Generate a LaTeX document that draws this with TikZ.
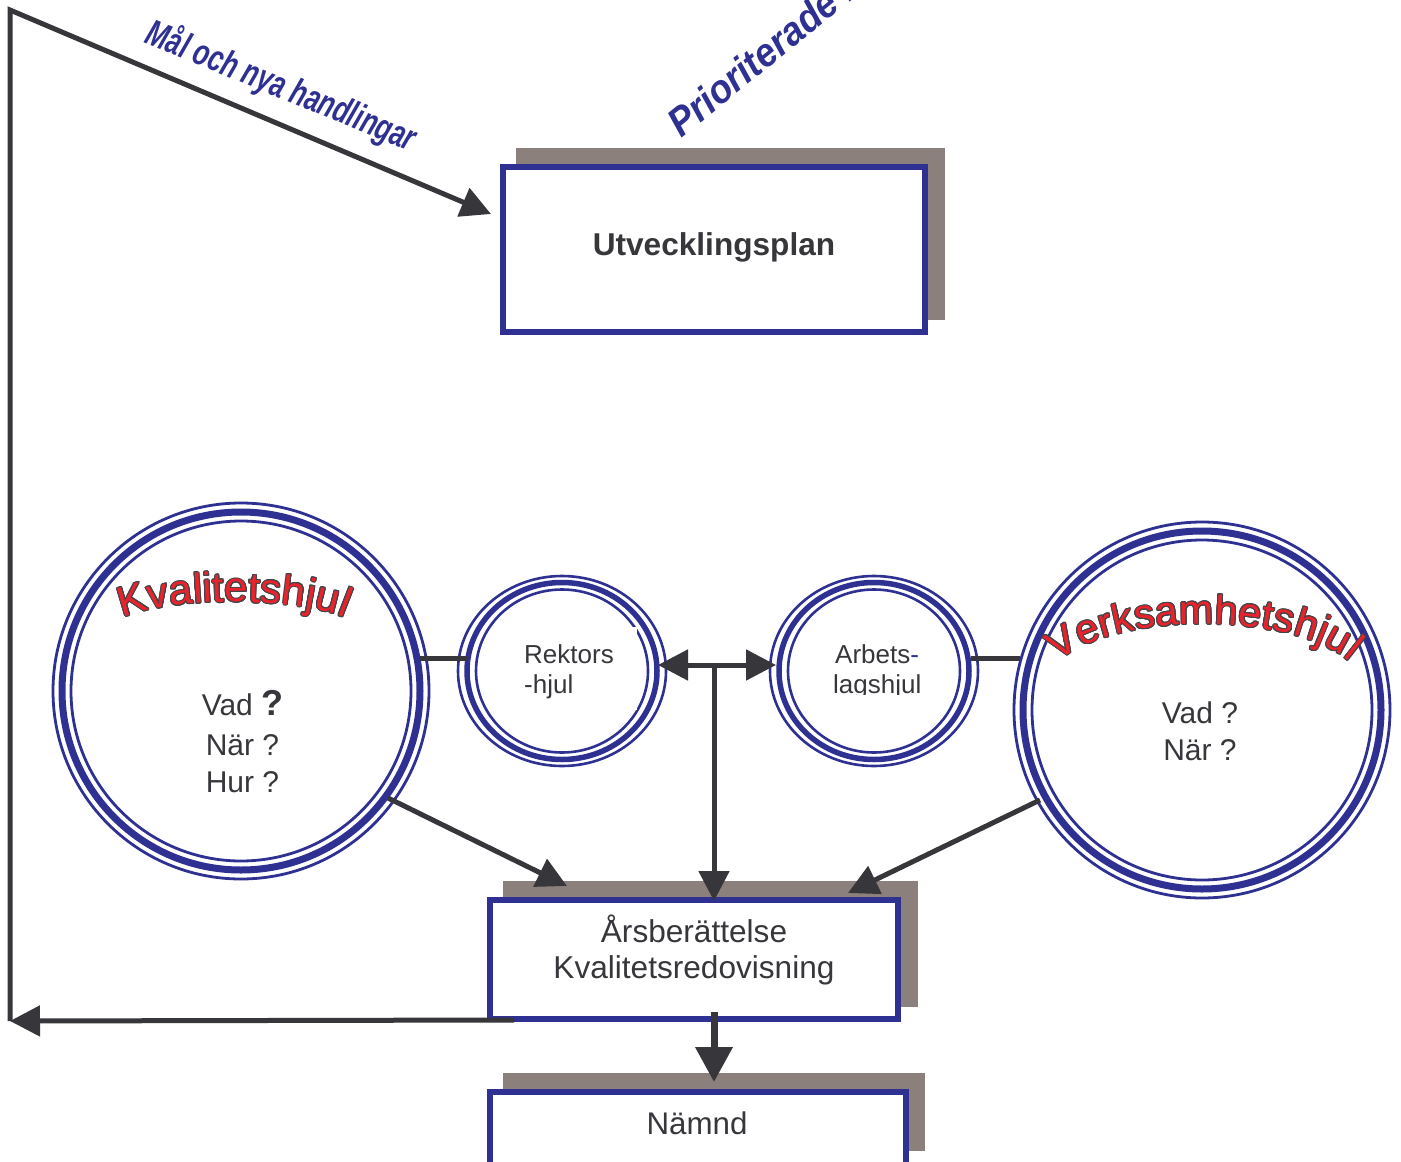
\documentclass[tikz,border=0pt]{standalone}
\usepackage{fontspec}
\setmainfont{Liberation Sans}
\usepackage{contour}
\contourlength{1pt}
\contournumber{16}
\usetikzlibrary{arrows.meta,decorations.text}
\definecolor{blu}{HTML}{2E3192}
\definecolor{ink}{HTML}{37363B}
\definecolor{shad}{HTML}{8C807D}
\definecolor{redt}{HTML}{E8232B}
\definecolor{outl}{HTML}{454449}
\newcommand\redchar[1]{\contour{outl}{#1}}
\newcommand\kvfont{\fontsize{42}{42}\selectfont}
\newcommand\vkfont{\fontsize{41}{41}\selectfont}
\begin{document}
\begin{tikzpicture}[x=1pt,y=-1pt,
  conn/.style={draw=ink,line width=5pt},
  arr/.style={conn,-{Triangle[length=30pt,width=30pt]}},
  bigarr/.style={draw=ink,line width=7pt,-{Triangle[length=35pt,width=36pt]}},
  mainbox/.style={draw=blu,fill=white,line width=5.5pt,inner sep=0pt},
  thinring/.style={draw=blu,line width=2.8pt},
  thickring/.style={draw=blu,line width=7pt},
  sthin/.style={draw=blu,line width=2.6pt},
  sthick/.style={draw=blu,line width=5.5pt},
  lbl/.style={text=ink,inner sep=0pt,anchor=base},
  slbl/.style={text=ink,inner sep=0pt,anchor=base west,font=\fontsize{26}{26}\selectfont},
  flow/.style={text=blu,inner sep=0pt,font=\bfseries\itshape},
]
\useasboundingbox (0,0) rectangle (1401,1162);
\clip (0,0) rectangle (1401,1162);
\fill[white] (0,0) rectangle (1401,1162);

% shadows
\fill[shad] (516,148) rectangle (945,320);
\fill[shad] (503,881) rectangle (918,1007);
\fill[shad] (503,1073) rectangle (925,1151);

% boxes
\node[mainbox, minimum width=422pt, minimum height=165pt] (plan) at (714,249.5) {};
\node[mainbox, minimum width=408pt, minimum height=119pt] (ars) at (694,959.5) {};
\node[mainbox, minimum width=416pt, minimum height=90pt] (namnd) at (698,1137) {};

% wheels
\coordinate (kv) at (241,691);
\coordinate (vk) at (1202,710);
\coordinate (rek) at (562,671);
\coordinate (arb) at (874,671);
\foreach \c in {kv,vk}{
  \draw[thinring] (\c) circle[radius=188pt];
  \draw[thickring] (\c) circle[radius=179pt];
  \draw[thinring] (\c) circle[radius=170pt];
}
\foreach \c in {rek,arb}{
  \draw[sthin] (\c) ellipse[x radius=104pt, y radius=95pt];
  \draw[sthick] (\c) ellipse[x radius=95pt, y radius=88.5pt];
  \draw[sthin] (\c) ellipse[x radius=86pt, y radius=81.5pt];
}
\fill[white] (515,627) rectangle (637,710);

% connectors
\coordinate (kvR) at (420,658);
\coordinate (rekL) at (467,658);
\coordinate (arbR) at (971,658);
\coordinate (vkL) at (1020,658);
\coordinate (hub) at (714,665);
\coordinate (hubtop) at (714,663);
\coordinate (rekR) at (658,665);
\coordinate (arbL) at (776,665);
\coordinate (arsTop) at (714,901);
\coordinate (kvOut) at (388,798);
\coordinate (arsNW) at (567,886);
\coordinate (vkOut) at (1040,800);
\coordinate (arsNE) at (848,893);
\coordinate (arsS) at (714,1012);
\coordinate (namN) at (714,1082);
\coordinate (arsW) at (514,1020);
\coordinate (bl) at (10,1021);
\coordinate (tl) at (10,10);
\coordinate (planW) at (491,214);

\draw[conn] (kvR) -- (rekL);
\draw[conn] (arbR) -- (vkL);
\draw[arr] (hub) -- (rekR);
\draw[arr] (hub) -- (arbL);
\draw[arr] (hubtop) -- (arsTop);
\draw[arr] (kvOut) -- (arsNW);
\draw[arr] (vkOut) -- (arsNE);
\draw[bigarr] (arsS) -- (namN);
\draw[arr] (arsW) -- (bl);
\draw[arr, line join=miter] (bl) -- (tl) -- (planW);

% box texts
\node[lbl, font=\bfseries\fontsize{31.6}{36}\selectfont] (plantxt) at (714,255) {Utvecklingsplan};
\node[lbl, font=\fontsize{31.6}{36}\selectfont] (ars1) at (694,942) {Årsberättelse};
\node[lbl, font=\fontsize{31.6}{36}\selectfont] (ars2) at (694,978) {Kvalitetsredovisning};
\node[lbl, font=\fontsize{31.3}{36}\selectfont] (namtxt) at (697,1134) {Nämnd};

% wheel texts
\node[lbl, font=\fontsize{30}{36}\selectfont] (kv1) at (242.5,715) {Vad {\bfseries\fontsize{36}{36}\selectfont ?}};
\node[lbl, font=\fontsize{30}{36}\selectfont] (kv2) at (242.5,755) {När ?};
\node[lbl, font=\fontsize{30}{36}\selectfont] (kv3) at (242.5,792) {Hur ?};
\node[lbl, font=\fontsize{30}{36}\selectfont] (vk1) at (1200,723) {Vad ?};
\node[lbl, font=\fontsize{30}{36}\selectfont] (vk2) at (1200,760) {När ?};
\node[slbl] (rek1) at (524,663) {Rektors};
\node[slbl] (rek2) at (524,693) {-hjul};
\node[slbl] (arb1) at (835,663) {Arbets\textcolor{blu}{-}};
\begin{scope}
\clip (820,640) rectangle (950,694.5);
\node[slbl] (arb2) at (833,693) {lagshjul};
\end{scope}

% arched titles
\path[decorate, decoration={text effects along path, text={Kvalitetshjul},
  text effects/.cd, text along path, fit text to path, character command=\redchar,
  characters={text=redt, font=\kvfont}}]
  (123,618) arc[start angle=152.6, end angle=27.4, x radius=125pt, y radius=29.6pt];
\path[decorate, decoration={text effects along path, text={Verksamhetshjul},
  text effects/.cd, text along path, fit text to path, character command=\redchar,
  characters={text=redt, font=\vkfont}}]
  (1058,662) arc[start angle=155.8, end angle=24.2, x radius=160pt, y radius=64.3pt];

% flow labels
\node[flow, anchor=base, rotate=-22.2, font=\bfseries\itshape\fontsize{37}{37}\selectfont] (goal) at (277,97) {\scalebox{0.7}[1]{Mål och nya handlingar}};
\node[flow, anchor=base west, rotate=39, font=\bfseries\itshape\fontsize{40}{40}\selectfont] (prio) at (681,139) {\scalebox{0.92}[1]{Prioriterade mål}};
\end{tikzpicture}
\end{document}
